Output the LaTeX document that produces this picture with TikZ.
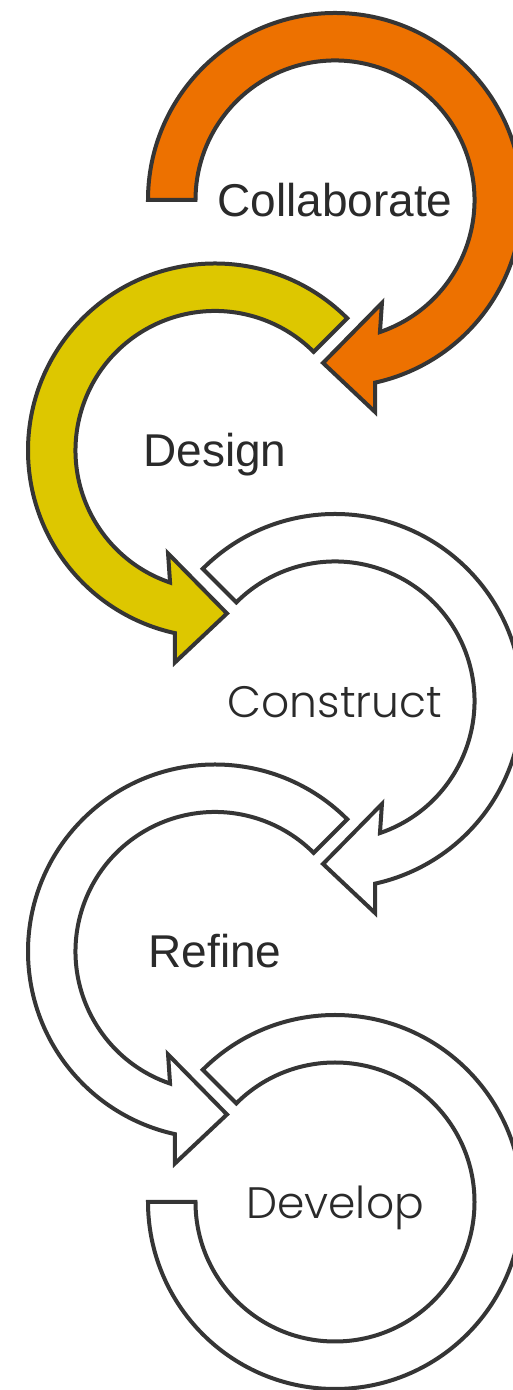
\documentclass[tikz,border=0pt]{standalone}
\usepackage{fontspec}
\newfontfamily\arialfont{Liberation Sans}
\newfontfamily\gothicfont{Poppins Light}
\definecolor{ringorange}{HTML}{ED7100}
\definecolor{ringyellow}{HTML}{DDC700}
\definecolor{ringline}{HTML}{353535}
\definecolor{labeltext}{HTML}{2A2A2A}
\begin{document}
\begin{tikzpicture}[x=0.5pt,y=0.5pt]
	\tikzstyle{ring}=[draw=ringline,line width=2pt,line join=miter]
	\tikzstyle{steplabel}=[inner sep=0pt,anchor=base,text=labeltext]
	\useasboundingbox (0,0) rectangle (513,1390);
	% four turning arrows, centre / mirror / start angle / fill
	\foreach \cx/\cy/\m/\s/\col in {335/1190/1/180/ringorange,215/939.5/-1/135/ringyellow,335/689/1/135/white,215/438.5/-1/135/white}{
		\begin{scope}[shift={(\cx,\cy)},xscale=\m]
		\filldraw[ring,fill=\col] (\s:187) arc[start angle=\s,end angle=-77.6,radius=187]
			-- (-79.3:215.7) -- (-94.2:163.4) -- (-65.5:113.2) -- (-71.2:139.5)
			arc[start angle=-71.2,end angle=\s,radius=139.5] -- cycle;
		\end{scope}
	}
	% last ring, no head
	\filldraw[ring,fill=white] (335,188) ++(135:187) arc[start angle=135,end angle=-180,radius=187]
		-- ++(47.5,0) arc[start angle=-180,end angle=135,radius=139.5] -- cycle;
	\node[steplabel] (collab) at (335,1173.5) {\arialfont\fontsize{23}{27}\selectfont Collaborate};
	\node[steplabel] (design) at (215,923) {\arialfont\fontsize{23}{27}\selectfont Design};
	\node[steplabel] (construct) at (335,672.5) {\gothicfont\fontsize{22}{26}\selectfont Construct};
	\node[steplabel] (refine) at (215,422) {\arialfont\fontsize{23}{27}\selectfont Refine};
	\node[steplabel] (develop) at (335,171.5) {\gothicfont\fontsize{22}{26}\selectfont Develop};
\end{tikzpicture}
\end{document}
